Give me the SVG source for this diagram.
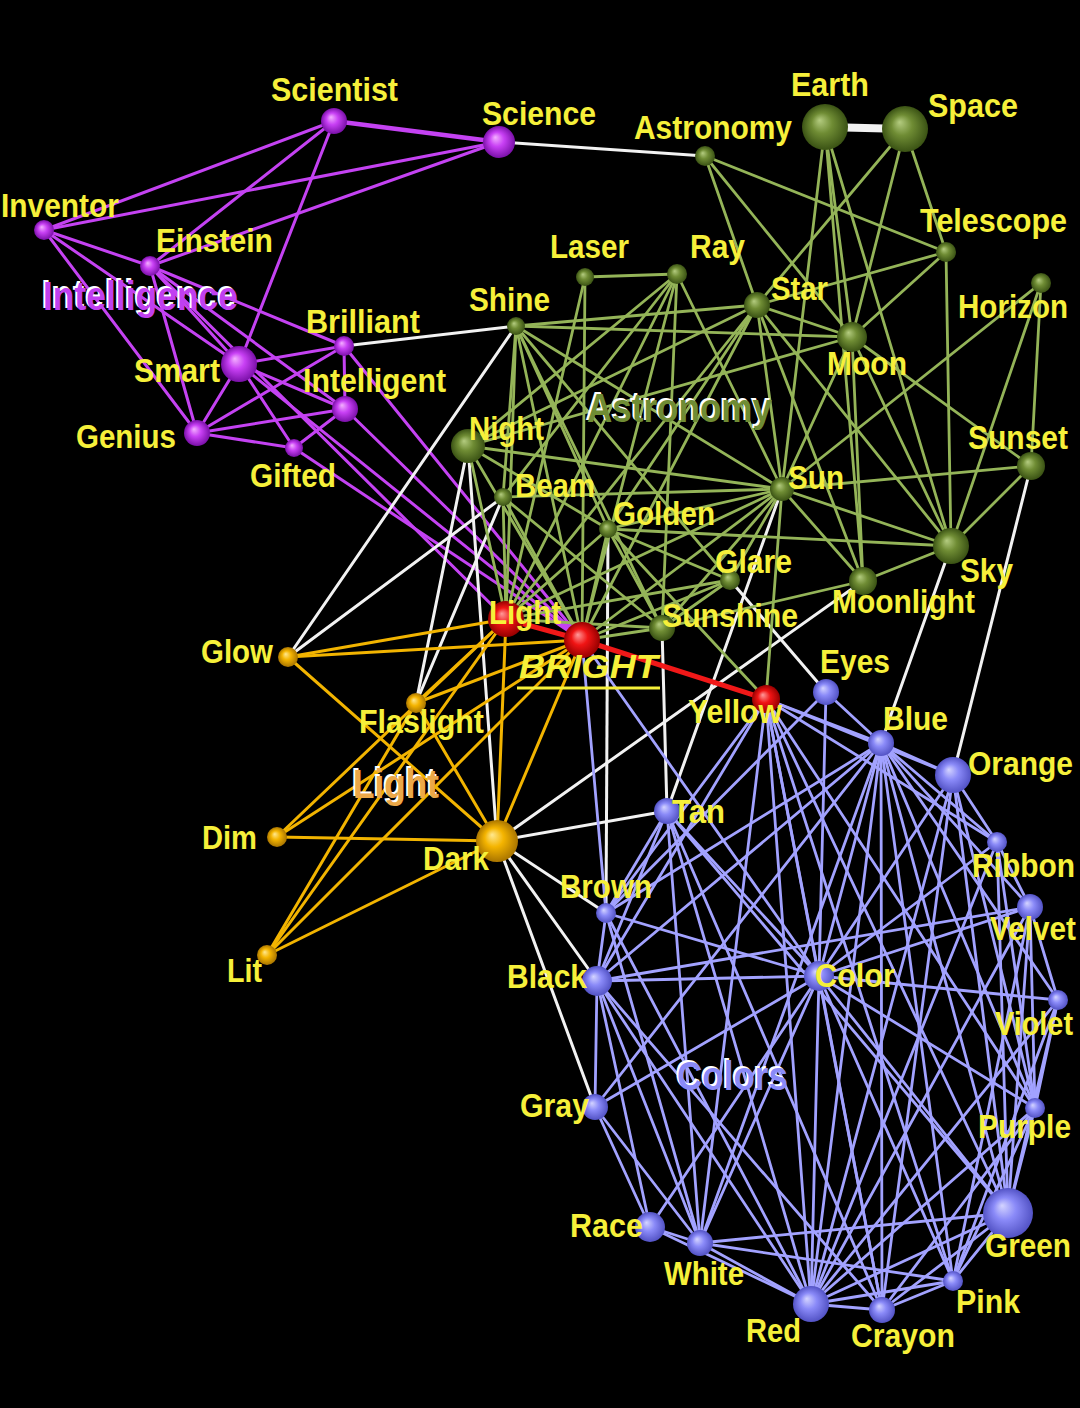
<svg xmlns="http://www.w3.org/2000/svg" width="1080" height="1408" viewBox="0 0 1080 1408">
<defs>
<radialGradient id="gP" cx="0.5" cy="0.5" r="0.5" fx="0.38" fy="0.35"><stop offset="0" stop-color="#f4b0ff"/><stop offset="0.45" stop-color="#c840f4"/><stop offset="1" stop-color="#7a10a8"/></radialGradient>
<radialGradient id="gG" cx="0.5" cy="0.5" r="0.5" fx="0.38" fy="0.35"><stop offset="0" stop-color="#b4cc80"/><stop offset="0.45" stop-color="#6f8c34"/><stop offset="1" stop-color="#3a5214"/></radialGradient>
<radialGradient id="gR" cx="0.5" cy="0.5" r="0.5" fx="0.38" fy="0.35"><stop offset="0" stop-color="#ff9a9a"/><stop offset="0.45" stop-color="#f01414"/><stop offset="1" stop-color="#960000"/></radialGradient>
<radialGradient id="gO" cx="0.5" cy="0.5" r="0.5" fx="0.38" fy="0.35"><stop offset="0" stop-color="#ffe890"/><stop offset="0.45" stop-color="#f4b400"/><stop offset="1" stop-color="#a87400"/></radialGradient>
<radialGradient id="gB" cx="0.5" cy="0.5" r="0.5" fx="0.38" fy="0.35"><stop offset="0" stop-color="#d4d4ff"/><stop offset="0.45" stop-color="#8a8af8"/><stop offset="1" stop-color="#5252c4"/></radialGradient>
<style>
.p{stroke:#c442f2;stroke-width:3}
.g{stroke:#94b458;stroke-width:2.8}
.w{stroke:#f2f2f2;stroke-width:3}
.o{stroke:#f2b400;stroke-width:3}
.b{stroke:#a2a2ff;stroke-width:2.8}
.r{stroke:#f01818;stroke-width:5}
text{font-family:"Liberation Sans",Arial,sans-serif;font-weight:bold}
.t{fill:#f6f03a;font-size:30px}
.c{font-size:36px}
.cw{fill:#ffffff}
.nP{fill:url(#gP)}
.nG{fill:url(#gG)}
.nR{fill:url(#gR)}
.nO{fill:url(#gO)}
.nB{fill:url(#gB)}
</style>
</defs>
<rect width="1080" height="1408" fill="#000000"/>
<g id="connectors" fill="none" stroke-linecap="round">
<line class="p" style="stroke-width:4.5" x1="334" y1="121" x2="499" y2="142"/>
<line class="p" x1="334" y1="121" x2="44" y2="230"/>
<line class="p" x1="334" y1="121" x2="150" y2="266"/>
<line class="p" x1="334" y1="121" x2="239" y2="364"/>
<line class="p" x1="499" y1="142" x2="44" y2="230"/>
<line class="p" x1="499" y1="142" x2="150" y2="266"/>
<line class="p" x1="44" y1="230" x2="150" y2="266"/>
<line class="p" x1="44" y1="230" x2="239" y2="364"/>
<line class="p" x1="44" y1="230" x2="197" y2="433"/>
<line class="p" x1="150" y1="266" x2="344" y2="346"/>
<line class="p" x1="150" y1="266" x2="239" y2="364"/>
<line class="p" x1="150" y1="266" x2="197" y2="433"/>
<line class="p" x1="150" y1="266" x2="345" y2="409"/>
<line class="p" x1="239" y1="364" x2="344" y2="346"/>
<line class="p" x1="239" y1="364" x2="345" y2="409"/>
<line class="p" x1="239" y1="364" x2="197" y2="433"/>
<line class="p" x1="239" y1="364" x2="294" y2="448"/>
<line class="p" x1="197" y1="433" x2="344" y2="346"/>
<line class="p" x1="197" y1="433" x2="345" y2="409"/>
<line class="p" x1="197" y1="433" x2="294" y2="448"/>
<line class="p" x1="344" y1="346" x2="345" y2="409"/>
<line class="p" x1="345" y1="409" x2="294" y2="448"/>
<line class="p" x1="344" y1="346" x2="582" y2="640"/>
<line class="p" x1="345" y1="409" x2="582" y2="640"/>
<line class="p" x1="239" y1="364" x2="582" y2="640"/>
<line class="p" x1="294" y1="448" x2="582" y2="640"/>
<line class="p" x1="150" y1="266" x2="506" y2="619"/>
<line class="w" x1="499" y1="142" x2="705" y2="156"/>
<line class="w" style="stroke-width:8" x1="825" y1="127" x2="905" y2="129"/>
<line class="w" x1="344" y1="346" x2="516" y2="326"/>
<line class="w" x1="516" y1="326" x2="288" y2="657"/>
<line class="w" x1="503" y1="497" x2="288" y2="657"/>
<line class="w" x1="468" y1="446" x2="416" y2="703"/>
<line class="w" x1="468" y1="446" x2="497" y2="841"/>
<line class="w" x1="503" y1="497" x2="416" y2="703"/>
<line class="w" x1="608" y1="529" x2="606" y2="913"/>
<line class="w" x1="662" y1="628" x2="667" y2="811"/>
<line class="w" x1="782" y1="489" x2="667" y2="811"/>
<line class="w" x1="730" y1="580" x2="826" y2="692"/>
<line class="w" x1="863" y1="581" x2="497" y2="841"/>
<line class="w" x1="497" y1="841" x2="667" y2="811"/>
<line class="w" x1="497" y1="841" x2="606" y2="913"/>
<line class="w" x1="497" y1="841" x2="597" y2="981"/>
<line class="w" x1="497" y1="841" x2="595" y2="1107"/>
<line class="w" x1="951" y1="546" x2="881" y2="743"/>
<line class="w" x1="1031" y1="466" x2="953" y2="775"/>
<line class="g" x1="705" y1="156" x2="757" y2="305"/>
<line class="g" x1="705" y1="156" x2="852" y2="337"/>
<line class="g" x1="705" y1="156" x2="946" y2="252"/>
<line class="g" x1="825" y1="127" x2="852" y2="337"/>
<line class="g" x1="825" y1="127" x2="782" y2="489"/>
<line class="g" x1="825" y1="127" x2="951" y2="546"/>
<line class="g" x1="825" y1="127" x2="863" y2="581"/>
<line class="g" x1="905" y1="129" x2="757" y2="305"/>
<line class="g" x1="905" y1="129" x2="852" y2="337"/>
<line class="g" x1="905" y1="129" x2="946" y2="252"/>
<line class="g" x1="946" y1="252" x2="757" y2="305"/>
<line class="g" x1="946" y1="252" x2="852" y2="337"/>
<line class="g" x1="946" y1="252" x2="951" y2="546"/>
<line class="g" x1="1041" y1="283" x2="1031" y2="466"/>
<line class="g" x1="1041" y1="283" x2="951" y2="546"/>
<line class="g" x1="1041" y1="283" x2="782" y2="489"/>
<line class="g" x1="757" y1="305" x2="852" y2="337"/>
<line class="g" x1="757" y1="305" x2="782" y2="489"/>
<line class="g" x1="757" y1="305" x2="951" y2="546"/>
<line class="g" x1="757" y1="305" x2="863" y2="581"/>
<line class="g" x1="757" y1="305" x2="516" y2="326"/>
<line class="g" x1="757" y1="305" x2="506" y2="619"/>
<line class="g" x1="757" y1="305" x2="582" y2="640"/>
<line class="g" x1="757" y1="305" x2="608" y2="529"/>
<line class="g" x1="757" y1="305" x2="468" y2="446"/>
<line class="g" x1="852" y1="337" x2="782" y2="489"/>
<line class="g" x1="852" y1="337" x2="951" y2="546"/>
<line class="g" x1="852" y1="337" x2="863" y2="581"/>
<line class="g" x1="852" y1="337" x2="1031" y2="466"/>
<line class="g" x1="852" y1="337" x2="516" y2="326"/>
<line class="g" x1="852" y1="337" x2="468" y2="446"/>
<line class="g" x1="782" y1="489" x2="1031" y2="466"/>
<line class="g" x1="782" y1="489" x2="951" y2="546"/>
<line class="g" x1="782" y1="489" x2="863" y2="581"/>
<line class="g" x1="782" y1="489" x2="516" y2="326"/>
<line class="g" x1="782" y1="489" x2="677" y2="274"/>
<line class="g" x1="782" y1="489" x2="503" y2="497"/>
<line class="g" x1="782" y1="489" x2="608" y2="529"/>
<line class="g" x1="782" y1="489" x2="730" y2="580"/>
<line class="g" x1="782" y1="489" x2="662" y2="628"/>
<line class="g" x1="782" y1="489" x2="506" y2="619"/>
<line class="g" x1="782" y1="489" x2="582" y2="640"/>
<line class="g" x1="782" y1="489" x2="468" y2="446"/>
<line class="g" x1="782" y1="489" x2="766" y2="699"/>
<line class="g" x1="951" y1="546" x2="1031" y2="466"/>
<line class="g" x1="951" y1="546" x2="863" y2="581"/>
<line class="g" x1="951" y1="546" x2="608" y2="529"/>
<line class="g" x1="863" y1="581" x2="662" y2="628"/>
<line class="g" x1="516" y1="326" x2="662" y2="628"/>
<line class="g" x1="516" y1="326" x2="608" y2="529"/>
<line class="g" x1="516" y1="326" x2="730" y2="580"/>
<line class="g" x1="516" y1="326" x2="506" y2="619"/>
<line class="g" x1="516" y1="326" x2="582" y2="640"/>
<line class="g" x1="516" y1="326" x2="503" y2="497"/>
<line class="g" x1="585" y1="277" x2="677" y2="274"/>
<line class="g" x1="585" y1="277" x2="506" y2="619"/>
<line class="g" x1="585" y1="277" x2="582" y2="640"/>
<line class="g" x1="677" y1="274" x2="662" y2="628"/>
<line class="g" x1="677" y1="274" x2="506" y2="619"/>
<line class="g" x1="677" y1="274" x2="468" y2="446"/>
<line class="g" x1="677" y1="274" x2="503" y2="497"/>
<line class="g" x1="677" y1="274" x2="582" y2="640"/>
<line class="g" x1="468" y1="446" x2="608" y2="529"/>
<line class="g" x1="468" y1="446" x2="506" y2="619"/>
<line class="g" x1="468" y1="446" x2="582" y2="640"/>
<line class="g" x1="503" y1="497" x2="506" y2="619"/>
<line class="g" x1="503" y1="497" x2="582" y2="640"/>
<line class="g" x1="503" y1="497" x2="662" y2="628"/>
<line class="g" x1="608" y1="529" x2="506" y2="619"/>
<line class="g" x1="608" y1="529" x2="582" y2="640"/>
<line class="g" x1="608" y1="529" x2="730" y2="580"/>
<line class="g" x1="608" y1="529" x2="662" y2="628"/>
<line class="g" x1="608" y1="529" x2="766" y2="699"/>
<line class="g" x1="730" y1="580" x2="506" y2="619"/>
<line class="g" x1="730" y1="580" x2="582" y2="640"/>
<line class="g" x1="730" y1="580" x2="662" y2="628"/>
<line class="g" x1="662" y1="628" x2="506" y2="619"/>
<line class="g" x1="662" y1="628" x2="582" y2="640"/>
<line class="o" x1="288" y1="657" x2="506" y2="619"/>
<line class="o" x1="288" y1="657" x2="582" y2="640"/>
<line class="o" x1="288" y1="657" x2="497" y2="841"/>
<line class="o" x1="416" y1="703" x2="506" y2="619"/>
<line class="o" x1="416" y1="703" x2="582" y2="640"/>
<line class="o" x1="416" y1="703" x2="497" y2="841"/>
<line class="o" x1="277" y1="837" x2="506" y2="619"/>
<line class="o" x1="277" y1="837" x2="582" y2="640"/>
<line class="o" x1="277" y1="837" x2="497" y2="841"/>
<line class="o" x1="267" y1="955" x2="506" y2="619"/>
<line class="o" x1="267" y1="955" x2="582" y2="640"/>
<line class="o" x1="267" y1="955" x2="497" y2="841"/>
<line class="o" x1="267" y1="955" x2="416" y2="703"/>
<line class="o" x1="506" y1="619" x2="497" y2="841"/>
<line class="o" x1="582" y1="640" x2="497" y2="841"/>
<line class="b" x1="766" y1="699" x2="881" y2="743"/>
<line class="b" x1="766" y1="699" x2="953" y2="775"/>
<line class="b" x1="766" y1="699" x2="997" y2="842"/>
<line class="b" x1="766" y1="699" x2="597" y2="981"/>
<line class="b" x1="766" y1="699" x2="606" y2="913"/>
<line class="b" x1="766" y1="699" x2="819" y2="976"/>
<line class="b" x1="766" y1="699" x2="811" y2="1304"/>
<line class="b" x1="766" y1="699" x2="882" y2="1310"/>
<line class="b" x1="766" y1="699" x2="953" y2="1281"/>
<line class="b" x1="766" y1="699" x2="1008" y2="1213"/>
<line class="b" x1="766" y1="699" x2="1035" y2="1108"/>
<line class="b" x1="766" y1="699" x2="700" y2="1243"/>
<line class="b" x1="826" y1="692" x2="881" y2="743"/>
<line class="b" x1="826" y1="692" x2="819" y2="976"/>
<line class="b" x1="826" y1="692" x2="606" y2="913"/>
<line class="b" x1="881" y1="743" x2="953" y2="775"/>
<line class="b" x1="881" y1="743" x2="997" y2="842"/>
<line class="b" x1="881" y1="743" x2="1030" y2="907"/>
<line class="b" x1="881" y1="743" x2="1058" y2="1000"/>
<line class="b" x1="881" y1="743" x2="1035" y2="1108"/>
<line class="b" x1="881" y1="743" x2="1008" y2="1213"/>
<line class="b" x1="881" y1="743" x2="953" y2="1281"/>
<line class="b" x1="881" y1="743" x2="882" y2="1310"/>
<line class="b" x1="881" y1="743" x2="811" y2="1304"/>
<line class="b" x1="881" y1="743" x2="819" y2="976"/>
<line class="b" x1="881" y1="743" x2="597" y2="981"/>
<line class="b" x1="881" y1="743" x2="606" y2="913"/>
<line class="b" x1="881" y1="743" x2="700" y2="1243"/>
<line class="b" x1="881" y1="743" x2="595" y2="1107"/>
<line class="b" x1="953" y1="775" x2="997" y2="842"/>
<line class="b" x1="953" y1="775" x2="811" y2="1304"/>
<line class="b" x1="953" y1="775" x2="1008" y2="1213"/>
<line class="b" x1="953" y1="775" x2="1035" y2="1108"/>
<line class="b" x1="953" y1="775" x2="819" y2="976"/>
<line class="b" x1="953" y1="775" x2="882" y2="1310"/>
<line class="b" x1="667" y1="811" x2="606" y2="913"/>
<line class="b" x1="667" y1="811" x2="597" y2="981"/>
<line class="b" x1="667" y1="811" x2="819" y2="976"/>
<line class="b" x1="667" y1="811" x2="811" y2="1304"/>
<line class="b" x1="667" y1="811" x2="700" y2="1243"/>
<line class="b" x1="667" y1="811" x2="882" y2="1310"/>
<line class="b" x1="667" y1="811" x2="1008" y2="1213"/>
<line class="b" x1="582" y1="640" x2="606" y2="913"/>
<line class="b" x1="582" y1="640" x2="819" y2="976"/>
<line class="b" x1="606" y1="913" x2="597" y2="981"/>
<line class="b" x1="606" y1="913" x2="819" y2="976"/>
<line class="b" x1="606" y1="913" x2="811" y2="1304"/>
<line class="b" x1="606" y1="913" x2="700" y2="1243"/>
<line class="b" x1="597" y1="981" x2="819" y2="976"/>
<line class="b" x1="597" y1="981" x2="1030" y2="907"/>
<line class="b" x1="597" y1="981" x2="595" y2="1107"/>
<line class="b" x1="597" y1="981" x2="650" y2="1227"/>
<line class="b" x1="597" y1="981" x2="700" y2="1243"/>
<line class="b" x1="597" y1="981" x2="811" y2="1304"/>
<line class="b" x1="597" y1="981" x2="882" y2="1310"/>
<line class="b" x1="819" y1="976" x2="1030" y2="907"/>
<line class="b" x1="819" y1="976" x2="1058" y2="1000"/>
<line class="b" x1="819" y1="976" x2="1035" y2="1108"/>
<line class="b" x1="819" y1="976" x2="1008" y2="1213"/>
<line class="b" x1="819" y1="976" x2="953" y2="1281"/>
<line class="b" x1="819" y1="976" x2="882" y2="1310"/>
<line class="b" x1="819" y1="976" x2="811" y2="1304"/>
<line class="b" x1="819" y1="976" x2="700" y2="1243"/>
<line class="b" x1="819" y1="976" x2="650" y2="1227"/>
<line class="b" x1="819" y1="976" x2="595" y2="1107"/>
<line class="b" x1="819" y1="976" x2="997" y2="842"/>
<line class="b" x1="997" y1="842" x2="1030" y2="907"/>
<line class="b" x1="997" y1="842" x2="1035" y2="1108"/>
<line class="b" x1="997" y1="842" x2="1008" y2="1213"/>
<line class="b" x1="997" y1="842" x2="811" y2="1304"/>
<line class="b" x1="1030" y1="907" x2="1058" y2="1000"/>
<line class="b" x1="1030" y1="907" x2="1035" y2="1108"/>
<line class="b" x1="1030" y1="907" x2="1008" y2="1213"/>
<line class="b" x1="1030" y1="907" x2="811" y2="1304"/>
<line class="b" x1="1030" y1="907" x2="953" y2="1281"/>
<line class="b" x1="1058" y1="1000" x2="1035" y2="1108"/>
<line class="b" x1="1058" y1="1000" x2="1008" y2="1213"/>
<line class="b" x1="1058" y1="1000" x2="811" y2="1304"/>
<line class="b" x1="1058" y1="1000" x2="953" y2="1281"/>
<line class="b" x1="595" y1="1107" x2="650" y2="1227"/>
<line class="b" x1="595" y1="1107" x2="700" y2="1243"/>
<line class="b" x1="1035" y1="1108" x2="1008" y2="1213"/>
<line class="b" x1="1035" y1="1108" x2="811" y2="1304"/>
<line class="b" x1="1035" y1="1108" x2="953" y2="1281"/>
<line class="b" x1="1035" y1="1108" x2="882" y2="1310"/>
<line class="b" x1="1008" y1="1213" x2="811" y2="1304"/>
<line class="b" x1="1008" y1="1213" x2="953" y2="1281"/>
<line class="b" x1="1008" y1="1213" x2="882" y2="1310"/>
<line class="b" x1="1008" y1="1213" x2="700" y2="1243"/>
<line class="b" x1="650" y1="1227" x2="700" y2="1243"/>
<line class="b" x1="650" y1="1227" x2="811" y2="1304"/>
<line class="b" x1="700" y1="1243" x2="811" y2="1304"/>
<line class="b" x1="700" y1="1243" x2="953" y2="1281"/>
<line class="b" x1="811" y1="1304" x2="882" y2="1310"/>
<line class="b" x1="811" y1="1304" x2="953" y2="1281"/>
<line class="b" x1="882" y1="1310" x2="953" y2="1281"/>
<line class="r" x1="506" y1="619" x2="582" y2="640"/>
<line class="r" x1="582" y1="640" x2="766" y2="699"/>
</g>
<g id="cluster-intelligence"><text class="c cw" transform="matrix(1 0 0 1.12 41 308)" textLength="195" lengthAdjust="spacingAndGlyphs">Intelligence</text><text class="c" fill="#c040f0" transform="matrix(1 0 0 1.12 43 310)" textLength="195" lengthAdjust="spacingAndGlyphs">Intelligence</text></g>
<g id="cluster-astronomy"><text class="c cw" transform="matrix(1 0 0 1.12 585 420)" textLength="185" lengthAdjust="spacingAndGlyphs">Astronomy</text><text class="c" fill="#6f8c34" transform="matrix(1 0 0 1.12 587 422)" textLength="185" lengthAdjust="spacingAndGlyphs">Astronomy</text></g>
<g id="cluster-light"><text class="c cw" transform="matrix(1 0 0 1.12 351 796)" textLength="86" lengthAdjust="spacingAndGlyphs">Light</text><text class="c" fill="#eca848" transform="matrix(1 0 0 1.12 353 798)" textLength="86" lengthAdjust="spacingAndGlyphs">Light</text></g>
<g id="cluster-colors"><text class="c cw" transform="matrix(1 0 0 1.12 675 1088)" textLength="111" lengthAdjust="spacingAndGlyphs">Colors</text><text class="c" fill="#8a8af8" transform="matrix(1 0 0 1.12 677 1090)" textLength="111" lengthAdjust="spacingAndGlyphs">Colors</text></g>
<g id="n-scientist"><circle class="nP" cx="334" cy="121" r="13"/><text class="t" transform="matrix(1 0 0 1.12 271 101)" textLength="127" lengthAdjust="spacingAndGlyphs">Scientist</text></g>
<g id="n-science"><circle class="nP" cx="499" cy="142" r="16"/><text class="t" transform="matrix(1 0 0 1.12 482 125)" textLength="114" lengthAdjust="spacingAndGlyphs">Science</text></g>
<g id="n-inventor"><circle class="nP" cx="44" cy="230" r="10"/><text class="t" transform="matrix(1 0 0 1.12 1 217)" textLength="118" lengthAdjust="spacingAndGlyphs">Inventor</text></g>
<g id="n-einstein"><circle class="nP" cx="150" cy="266" r="10"/><text class="t" transform="matrix(1 0 0 1.12 156 252)" textLength="117" lengthAdjust="spacingAndGlyphs">Einstein</text></g>
<g id="n-smart"><circle class="nP" cx="239" cy="364" r="18"/><text class="t" transform="matrix(1 0 0 1.12 134 382)" textLength="86" lengthAdjust="spacingAndGlyphs">Smart</text></g>
<g id="n-brilliant"><circle class="nP" cx="344" cy="346" r="10"/><text class="t" transform="matrix(1 0 0 1.12 306 333)" textLength="114" lengthAdjust="spacingAndGlyphs">Brilliant</text></g>
<g id="n-intelligent"><circle class="nP" cx="345" cy="409" r="13"/><text class="t" transform="matrix(1 0 0 1.12 303 392)" textLength="143" lengthAdjust="spacingAndGlyphs">Intelligent</text></g>
<g id="n-genius"><circle class="nP" cx="197" cy="433" r="13"/><text class="t" transform="matrix(1 0 0 1.12 76 448)" textLength="100" lengthAdjust="spacingAndGlyphs">Genius</text></g>
<g id="n-gifted"><circle class="nP" cx="294" cy="448" r="9"/><text class="t" transform="matrix(1 0 0 1.12 250 487)" textLength="86" lengthAdjust="spacingAndGlyphs">Gifted</text></g>
<g id="n-astronomy"><circle class="nG" cx="705" cy="156" r="10"/><text class="t" transform="matrix(1 0 0 1.12 634 139)" textLength="158" lengthAdjust="spacingAndGlyphs">Astronomy</text></g>
<g id="n-earth"><circle class="nG" cx="825" cy="127" r="23"/><text class="t" transform="matrix(1 0 0 1.12 791 96)" textLength="78" lengthAdjust="spacingAndGlyphs">Earth</text></g>
<g id="n-space"><circle class="nG" cx="905" cy="129" r="23"/><text class="t" transform="matrix(1 0 0 1.12 928 117)" textLength="90" lengthAdjust="spacingAndGlyphs">Space</text></g>
<g id="n-telescope"><circle class="nG" cx="946" cy="252" r="10"/><text class="t" transform="matrix(1 0 0 1.12 920 232)" textLength="147" lengthAdjust="spacingAndGlyphs">Telescope</text></g>
<g id="n-horizon"><circle class="nG" cx="1041" cy="283" r="10"/><text class="t" transform="matrix(1 0 0 1.12 958 318)" textLength="110" lengthAdjust="spacingAndGlyphs">Horizon</text></g>
<g id="n-laser"><circle class="nG" cx="585" cy="277" r="9"/><text class="t" transform="matrix(1 0 0 1.12 550 258)" textLength="79" lengthAdjust="spacingAndGlyphs">Laser</text></g>
<g id="n-ray"><circle class="nG" cx="677" cy="274" r="10"/><text class="t" transform="matrix(1 0 0 1.12 690 258)" textLength="55" lengthAdjust="spacingAndGlyphs">Ray</text></g>
<g id="n-star"><circle class="nG" cx="757" cy="305" r="13"/><text class="t" transform="matrix(1 0 0 1.12 771 300)" textLength="57" lengthAdjust="spacingAndGlyphs">Star</text></g>
<g id="n-shine"><circle class="nG" cx="516" cy="326" r="9"/><text class="t" transform="matrix(1 0 0 1.12 469 311)" textLength="81" lengthAdjust="spacingAndGlyphs">Shine</text></g>
<g id="n-moon"><circle class="nG" cx="852" cy="337" r="15"/><text class="t" transform="matrix(1 0 0 1.12 827 375)" textLength="80" lengthAdjust="spacingAndGlyphs">Moon</text></g>
<g id="n-night"><circle class="nG" cx="468" cy="446" r="17"/><text class="t" transform="matrix(1 0 0 1.12 469 440)" textLength="75" lengthAdjust="spacingAndGlyphs">Night</text></g>
<g id="n-beam"><circle class="nG" cx="503" cy="497" r="9"/><text class="t" transform="matrix(1 0 0 1.12 515 497)" textLength="80" lengthAdjust="spacingAndGlyphs">Beam</text></g>
<g id="n-golden"><circle class="nG" cx="608" cy="529" r="9"/><text class="t" transform="matrix(1 0 0 1.12 613 525)" textLength="102" lengthAdjust="spacingAndGlyphs">Golden</text></g>
<g id="n-sun"><circle class="nG" cx="782" cy="489" r="12"/><text class="t" transform="matrix(1 0 0 1.12 788 489)" textLength="56" lengthAdjust="spacingAndGlyphs">Sun</text></g>
<g id="n-sunset"><circle class="nG" cx="1031" cy="466" r="14"/><text class="t" transform="matrix(1 0 0 1.12 968 449)" textLength="100" lengthAdjust="spacingAndGlyphs">Sunset</text></g>
<g id="n-sky"><circle class="nG" cx="951" cy="546" r="18"/><text class="t" transform="matrix(1 0 0 1.12 960 582)" textLength="53" lengthAdjust="spacingAndGlyphs">Sky</text></g>
<g id="n-glare"><circle class="nG" cx="730" cy="580" r="10"/><text class="t" transform="matrix(1 0 0 1.12 715 573)" textLength="77" lengthAdjust="spacingAndGlyphs">Glare</text></g>
<g id="n-moonlight"><circle class="nG" cx="863" cy="581" r="14"/><text class="t" transform="matrix(1 0 0 1.12 832 613)" textLength="143" lengthAdjust="spacingAndGlyphs">Moonlight</text></g>
<g id="n-sunshine"><circle class="nG" cx="662" cy="628" r="13"/><text class="t" transform="matrix(1 0 0 1.12 662 627)" textLength="136" lengthAdjust="spacingAndGlyphs">Sunshine</text></g>
<g id="n-light"><circle class="nR" cx="506" cy="619" r="18"/><text class="t" transform="matrix(1 0 0 1.12 489 624)" textLength="72" lengthAdjust="spacingAndGlyphs">Light</text></g>
<g id="n-bright"><circle class="nR" cx="582" cy="640" r="18"/><text class="t" font-style="italic" transform="matrix(1 0 0 1.12 519 678)" textLength="139" lengthAdjust="spacingAndGlyphs">BRIGHT</text><line x1="517" y1="688" x2="660" y2="688" stroke="#f6f03a" stroke-width="3"/></g>
<g id="n-yellow"><circle class="nR" cx="766" cy="699" r="14"/><text class="t" transform="matrix(1 0 0 1.12 688 723)" textLength="94" lengthAdjust="spacingAndGlyphs">Yellow</text></g>
<g id="n-glow"><circle class="nO" cx="288" cy="657" r="10"/><text class="t" transform="matrix(1 0 0 1.12 201 663)" textLength="72" lengthAdjust="spacingAndGlyphs">Glow</text></g>
<g id="n-flashlight"><circle class="nO" cx="416" cy="703" r="10"/><text class="t" transform="matrix(1 0 0 1.12 359 733)" textLength="125" lengthAdjust="spacingAndGlyphs">Flaslight</text></g>
<g id="n-dim"><circle class="nO" cx="277" cy="837" r="10"/><text class="t" transform="matrix(1 0 0 1.12 202 849)" textLength="55" lengthAdjust="spacingAndGlyphs">Dim</text></g>
<g id="n-dark"><circle class="nO" cx="497" cy="841" r="21"/><text class="t" transform="matrix(1 0 0 1.12 423 870)" textLength="66" lengthAdjust="spacingAndGlyphs">Dark</text></g>
<g id="n-lit"><circle class="nO" cx="267" cy="955" r="10"/><text class="t" transform="matrix(1 0 0 1.12 227 982)" textLength="35" lengthAdjust="spacingAndGlyphs">Lit</text></g>
<g id="n-eyes"><circle class="nB" cx="826" cy="692" r="13"/><text class="t" transform="matrix(1 0 0 1.12 820 673)" textLength="70" lengthAdjust="spacingAndGlyphs">Eyes</text></g>
<g id="n-blue"><circle class="nB" cx="881" cy="743" r="13"/><text class="t" transform="matrix(1 0 0 1.12 883 730)" textLength="65" lengthAdjust="spacingAndGlyphs">Blue</text></g>
<g id="n-orange"><circle class="nB" cx="953" cy="775" r="18"/><text class="t" transform="matrix(1 0 0 1.12 968 775)" textLength="105" lengthAdjust="spacingAndGlyphs">Orange</text></g>
<g id="n-tan"><circle class="nB" cx="667" cy="811" r="13"/><text class="t" transform="matrix(1 0 0 1.12 672 823)" textLength="53" lengthAdjust="spacingAndGlyphs">Tan</text></g>
<g id="n-ribbon"><circle class="nB" cx="997" cy="842" r="10"/><text class="t" transform="matrix(1 0 0 1.12 972 877)" textLength="103" lengthAdjust="spacingAndGlyphs">Ribbon</text></g>
<g id="n-velvet"><circle class="nB" cx="1030" cy="907" r="13"/><text class="t" transform="matrix(1 0 0 1.12 990 940)" textLength="86" lengthAdjust="spacingAndGlyphs">Velvet</text></g>
<g id="n-brown"><circle class="nB" cx="606" cy="913" r="10"/><text class="t" transform="matrix(1 0 0 1.12 560 898)" textLength="92" lengthAdjust="spacingAndGlyphs">Brown</text></g>
<g id="n-black"><circle class="nB" cx="597" cy="981" r="15"/><text class="t" transform="matrix(1 0 0 1.12 507 988)" textLength="80" lengthAdjust="spacingAndGlyphs">Black</text></g>
<g id="n-color"><circle class="nB" cx="819" cy="976" r="15"/><text class="t" transform="matrix(1 0 0 1.12 815 987)" textLength="80" lengthAdjust="spacingAndGlyphs">Color</text></g>
<g id="n-violet"><circle class="nB" cx="1058" cy="1000" r="10"/><text class="t" transform="matrix(1 0 0 1.12 995 1035)" textLength="78" lengthAdjust="spacingAndGlyphs">Violet</text></g>
<g id="n-gray"><circle class="nB" cx="595" cy="1107" r="13"/><text class="t" transform="matrix(1 0 0 1.12 520 1117)" textLength="69" lengthAdjust="spacingAndGlyphs">Gray</text></g>
<g id="n-purple"><circle class="nB" cx="1035" cy="1108" r="10"/><text class="t" transform="matrix(1 0 0 1.12 978 1138)" textLength="93" lengthAdjust="spacingAndGlyphs">Purple</text></g>
<g id="n-green"><circle class="nB" cx="1008" cy="1213" r="25"/><text class="t" transform="matrix(1 0 0 1.12 985 1257)" textLength="86" lengthAdjust="spacingAndGlyphs">Green</text></g>
<g id="n-race"><circle class="nB" cx="650" cy="1227" r="15"/><text class="t" transform="matrix(1 0 0 1.12 570 1237)" textLength="73" lengthAdjust="spacingAndGlyphs">Race</text></g>
<g id="n-white"><circle class="nB" cx="700" cy="1243" r="13"/><text class="t" transform="matrix(1 0 0 1.12 664 1285)" textLength="80" lengthAdjust="spacingAndGlyphs">White</text></g>
<g id="n-pink"><circle class="nB" cx="953" cy="1281" r="10"/><text class="t" transform="matrix(1 0 0 1.12 956 1313)" textLength="64" lengthAdjust="spacingAndGlyphs">Pink</text></g>
<g id="n-red"><circle class="nB" cx="811" cy="1304" r="18"/><text class="t" transform="matrix(1 0 0 1.12 746 1342)" textLength="55" lengthAdjust="spacingAndGlyphs">Red</text></g>
<g id="n-crayon"><circle class="nB" cx="882" cy="1310" r="13"/><text class="t" transform="matrix(1 0 0 1.12 851 1347)" textLength="104" lengthAdjust="spacingAndGlyphs">Crayon</text></g>
</svg>
